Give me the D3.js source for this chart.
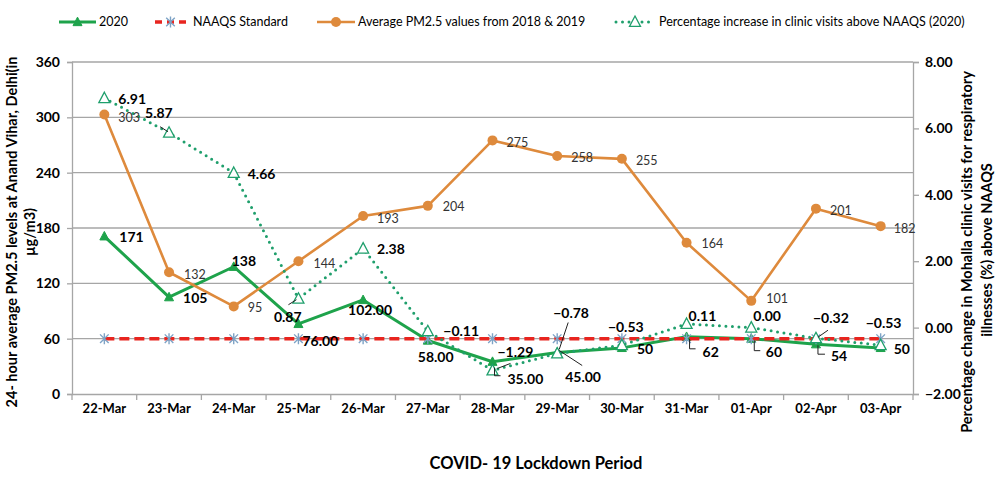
<!DOCTYPE html>
<html>
<head>
<meta charset="utf-8">
<script src="https://cdn.jsdelivr.net/npm/d3@7"></script>
<style>
  body { margin: 0; background: #fff; }
  svg { display: block; font-family: Lato, "Open Sans", sans-serif; }
</style>
</head>
<body>
<svg id="chart" width="1000" height="480"></svg>
<script>
// ---------------- DATA ----------------
const categories = ["22-Mar","23-Mar","24-Mar","25-Mar","26-Mar","27-Mar","28-Mar","29-Mar","30-Mar","31-Mar","01-Apr","02-Apr","03-Apr"];
const values2020 = [171, 105, 138, 76, 102, 58, 35, 45, 50, 62, 60, 54, 50];
const labels2020 = ["171","105","138","76.00","102.00","58.00","35.00","45.00","50","62","60","54","50"];
const naaqs = [60, 60, 60, 60, 60, 60, 60, 60, 60, 60, 60, 60, 60];
const avg1819 = [303, 132, 95, 144, 193, 204, 275, 258, 255, 164, 101, 201, 182];
const pctIncrease = [6.91, 5.87, 4.66, 0.87, 2.38, -0.11, -1.29, -0.78, -0.53, 0.11, 0.00, -0.32, -0.53];
const leftTicks = [0, 60, 120, 180, 240, 300, 360];
const rightTicks = [-2, 0, 2, 4, 6, 8];
const seriesNames = ["2020", "NAAQS Standard", "Average PM2.5 values from 2018 & 2019", "Percentage increase in clinic visits above NAAQS (2020)"];
const leftTitle = ["24- hour average PM2.5 levels at Anand Vihar, Delhi(in", "µg/m3)"];
const rightTitle = ["Percentage change in Mohalla clinic visits for respiratory", "illnesses (%) above NAAQS"];
const xTitle = "COVID- 19 Lockdown Period";

// ---------------- STYLE / LAYOUT ----------------
const C = {
  green: "#1ea34b",
  dotted: "#1f9f6c",
  orange: "#de8a3c",
  red: "#e8251f",
  star: "#7ea3c6",
  grid: "#a6a6a6",
  text: "#000",
  olabel: "#333"
};
const plot = { left: 72, right: 913, top: 62, bottom: 394 };

// label offsets (left x, centre y) relative to each point
const offs2020 = [[15,1],[14,1],[-2,-6],[4,17],[-15,10],[-10,17],[15,17],[8,25],[15,1],[16,15],[14.5,13],[15,12],[13,1]];
const offsPct = [[14,1],[-24,-20],[14,1],[-24.5,18],[14,1],[15.5,0],[5,-18],[-4,-40],[-14,-18],[2,-8],[2,-11.5],[-3,-20],[-15,-22]];
const offsAvg = [[14,3],[15,2],[14,1],[15,2],[14,3],[15,1],[14,2],[14,2],[14,2],[15,1],[15,-2],[14,2],[13,2]];
// leader lines: [seriesKey, index, points relative to the point]
const leaders = [
  ["pct", 1, [[-9,-6],[-1,-1]]],
  ["pct", 3, [[-10,6],[-2,1]]],
  ["pct", 6, [[5,-2],[18,-7]]],
  ["pct", 7, [[2,-4],[11,-31]]],
  ["pct", 11, [[2,-1],[12,-8]]],
  ["g", 7, [[2,-2],[25,13]]],
  ["g", 6, [[2,6],[2,14],[8,14]]],
  ["g", 9, [[3,2],[3,12],[9,12]]],
  ["g", 10, [[3,2],[3,12],[9,12]]],
  ["g", 11, [[2,1],[2,10],[9,10]]]
];

const svg = d3.select("#chart");

const x = d3.scaleBand().domain(categories).range([plot.left, plot.right]).paddingInner(0).paddingOuter(0);
const cx = c => x(c) + x.bandwidth() / 2;
const yL = d3.scaleLinear().domain([0, 360]).range([plot.bottom, plot.top]);
const yR = d3.scaleLinear().domain([-2, 8]).range([plot.bottom, plot.top]);

// gridlines
svg.append("g").selectAll("line").data(leftTicks.filter(d => d > 0)).join("line")
  .attr("x1", plot.left).attr("x2", plot.right)
  .attr("y1", d => yL(d)).attr("y2", d => yL(d))
  .attr("stroke", C.grid).attr("stroke-width", 1.3);

// left axis
const gL = svg.append("g").attr("transform", `translate(${plot.left},0)`)
  .call(d3.axisLeft(yL).tickValues(leftTicks).tickSize(5).tickPadding(7));
gL.select(".domain").attr("stroke", C.grid).attr("stroke-width", 1.3);
gL.selectAll(".tick line").attr("stroke", C.grid).attr("stroke-width", 1.3);
gL.selectAll(".tick text").attr("font-size", 14).attr("font-weight", "bold").attr("fill", C.text).attr("font-family", "Lato");

// right axis
const gR = svg.append("g").attr("transform", `translate(${plot.right},0)`)
  .call(d3.axisRight(yR).tickValues(rightTicks).tickFormat(d3.format(".2f")).tickSize(6).tickPadding(6));
gR.select(".domain").attr("stroke", C.grid).attr("stroke-width", 1.3);
gR.selectAll(".tick line").attr("stroke", C.grid).attr("stroke-width", 1.3);
gR.selectAll(".tick text").attr("font-size", 14).attr("font-weight", "bold").attr("fill", C.text).attr("font-family", "Lato");

// bottom axis (labels) + boundary ticks
const gB = svg.append("g").attr("transform", `translate(0,${plot.bottom})`)
  .call(d3.axisBottom(x).tickSize(0).tickPadding(10));
gB.select(".domain").attr("stroke", C.grid).attr("stroke-width", 1.3);
gB.selectAll(".tick text").attr("font-size", 13).attr("font-weight", "bold").attr("fill", C.text).attr("font-family", "Lato");
const bounds = categories.map(c => x(c)).concat([plot.right]);
svg.append("g").selectAll("line").data(bounds).join("line")
  .attr("x1", d => d).attr("x2", d => d)
  .attr("y1", plot.bottom).attr("y2", plot.bottom + 6)
  .attr("stroke", C.grid).attr("stroke-width", 1.3);

// axis titles
const lt = svg.append("text").attr("transform", "translate(0,232) rotate(-90)")
  .attr("text-anchor", "middle").attr("font-weight", "bold").attr("font-size", 14.5).attr("fill", C.text);
lt.append("tspan").attr("x", 0).attr("y", 17).text(leftTitle[0]);
lt.append("tspan").attr("x", 0).attr("y", 35).text(leftTitle[1]);

const rt = svg.append("text").attr("transform", "translate(0,252) rotate(-90)")
  .attr("text-anchor", "middle").attr("font-weight", "bold").attr("font-size", 14.5).attr("fill", C.text);
rt.append("tspan").attr("x", 0).attr("y", 972).text(rightTitle[0]);
rt.append("tspan").attr("x", 2).attr("y", 992).text(rightTitle[1]);

svg.append("text").attr("x", 536).attr("y", 469).attr("text-anchor", "middle")
  .attr("font-weight", "bold").attr("font-size", 16.5).attr("fill", C.text).text(xTitle);

// ---------------- marker helpers ----------------
function triFilled(g, px, py, s, color) {
  const h = s * 0.9;
  g.append("path").attr("d", `M${px},${py - h*0.6}L${px + s/2},${py + h*0.45}L${px - s/2},${py + h*0.45}Z`)
    .attr("fill", color).attr("stroke", color).attr("stroke-width", 1);
}
function triHollow(g, px, py, s, color) {
  const h = s * 0.9;
  g.append("path").attr("d", `M${px},${py - h*0.6}L${px + s/2},${py + h*0.45}L${px - s/2},${py + h*0.45}Z`)
    .attr("fill", "#fff").attr("stroke", color).attr("stroke-width", 1.3);
}
function star(g, px, py, r, color) {
  const d = r * 0.78;
  g.append("path").attr("d", `M${px},${py - r}L${px},${py + r}M${px - d},${py - d}L${px + d},${py + d}M${px - d},${py + d}L${px + d},${py - d}`)
    .attr("stroke", color).attr("stroke-width", 1.4).attr("fill", "none");
}

// ---------------- series ----------------
const ptsG = categories.map((c, i) => [cx(c), yL(values2020[i])]);
const ptsN = categories.map((c, i) => [cx(c), yL(naaqs[i])]);
const ptsO = categories.map((c, i) => [cx(c), yL(avg1819[i])]);
const ptsP = categories.map((c, i) => [cx(c), yR(pctIncrease[i])]);
const line = d3.line();

// 2020
const g1 = svg.append("g");
g1.append("path").attr("d", line(ptsG)).attr("fill", "none").attr("stroke", C.green).attr("stroke-width", 3).attr("stroke-linejoin", "round");
ptsG.forEach(p => triFilled(g1, p[0], p[1], 9, C.green));

// NAAQS
const g2 = svg.append("g");
g2.append("path").attr("d", line(ptsN)).attr("fill", "none").attr("stroke", C.red).attr("stroke-width", 3.5).attr("stroke-dasharray", "10,5");
ptsN.forEach(p => star(g2, p[0], p[1], 5.5, C.star));

// Average 2018 & 2019
const g3 = svg.append("g");
g3.append("path").attr("d", line(ptsO)).attr("fill", "none").attr("stroke", C.orange).attr("stroke-width", 2.6).attr("stroke-linejoin", "round");
g3.selectAll("circle").data(ptsO).join("circle").attr("cx", d => d[0]).attr("cy", d => d[1]).attr("r", 5).attr("fill", C.orange);

// Percentage
const g4 = svg.append("g");
g4.append("path").attr("d", line(ptsP)).attr("fill", "none").attr("stroke", C.dotted).attr("stroke-width", 3)
  .attr("stroke-dasharray", "0,6.5").attr("stroke-linecap", "round");
ptsP.forEach(p => triHollow(g4, p[0], p[1], 11, C.dotted));

// leader lines
const lg = svg.append("g");
leaders.forEach(([k, i, rel]) => {
  const base = k === "pct" ? ptsP[i] : ptsG[i];
  lg.append("path").attr("d", line(rel.map(r => [base[0] + r[0], base[1] + r[1]])))
    .attr("fill", "none").attr("stroke", "#222").attr("stroke-width", 1);
});

// ---------------- data labels ----------------
const lab = svg.append("g");
ptsO.forEach((p, i) => {
  lab.append("text").attr("x", p[0] + offsAvg[i][0]).attr("y", p[1] + offsAvg[i][1]).attr("dy", "0.35em")
    .attr("font-size", 12.5).attr("fill", C.olabel).text(avg1819[i]);
});
ptsG.forEach((p, i) => {
  lab.append("text").attr("x", p[0] + offs2020[i][0]).attr("y", p[1] + offs2020[i][1]).attr("dy", "0.35em")
    .attr("font-size", 14).attr("font-weight", "bold").attr("fill", C.text).text(labels2020[i]);
});
ptsP.forEach((p, i) => {
  lab.append("text").attr("x", p[0] + offsPct[i][0]).attr("y", p[1] + offsPct[i][1]).attr("dy", "0.35em")
    .attr("font-size", 14).attr("font-weight", "bold").attr("fill", C.text).text(d3.format(".2f")(pctIncrease[i]));
});

// ---------------- legend ----------------
const leg = svg.append("g").attr("font-size", 12.5).attr("fill", C.text);
const ly = 22;
// 2020
leg.append("line").attr("x1", 59).attr("x2", 96).attr("y1", ly).attr("y2", ly).attr("stroke", C.green).attr("stroke-width", 3);
triFilled(leg, 77.5, ly, 9, C.green);
leg.append("text").attr("x", 99).attr("y", ly).attr("dy", "0.35em").text(seriesNames[0]);
// NAAQS
leg.append("line").attr("x1", 155).attr("x2", 186).attr("y1", ly).attr("y2", ly).attr("stroke", C.red).attr("stroke-width", 3.5).attr("stroke-dasharray", "7,5");
star(leg, 170.5, ly, 5.5, C.star);
leg.append("text").attr("x", 193).attr("y", ly).attr("dy", "0.35em").text(seriesNames[1]);
// Average
leg.append("line").attr("x1", 317).attr("x2", 355).attr("y1", ly).attr("y2", ly).attr("stroke", C.orange).attr("stroke-width", 2.6);
leg.append("circle").attr("cx", 336).attr("cy", ly).attr("r", 5).attr("fill", C.orange);
leg.append("text").attr("x", 358).attr("y", ly).attr("dy", "0.35em").text(seriesNames[2]);
// Percentage
leg.append("line").attr("x1", 616).attr("x2", 654).attr("y1", ly).attr("y2", ly).attr("stroke", C.dotted).attr("stroke-width", 3)
  .attr("stroke-dasharray", "0,6.5").attr("stroke-linecap", "round");
triHollow(leg, 635, ly, 11, C.dotted);
leg.append("text").attr("x", 659).attr("y", ly).attr("dy", "0.35em").text(seriesNames[3]);
</script>
</body>
</html>
